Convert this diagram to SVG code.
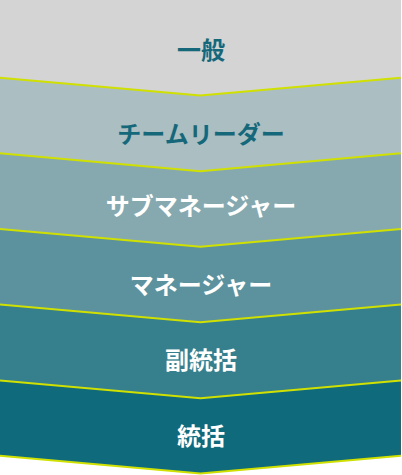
<svg xmlns="http://www.w3.org/2000/svg" width="402" height="475" viewBox="0 0 402 475">
  <style>
    .lbl { font-family: "Noto Sans CJK JP", "Noto Sans", sans-serif; font-size: 24px; font-weight: 700; text-anchor: middle; }
    .dark { fill: #14687a; }
    .light { fill: #ffffff; }
    .div { fill: none; stroke: #d0e000; stroke-width: 2; }
  </style>
  <rect x="0" y="0" width="402" height="475" fill="#ffffff"/>
  <g id="band-ippan">
    <polygon points="0,0 401,0 401,77.7 200.5,95.6 0,77.7" fill="#d3d4d3"/>
    <text class="lbl dark" x="201" y="58.5">一般</text>
  </g>
  <g id="band-team-leader">
    <polygon points="0,77.7 200.5,95.6 401,77.7 401,153.3 200.5,171.2 0,153.3" fill="#abbec2"/>
    <text class="lbl dark" x="201" y="143">チームリーダー</text>
  </g>
  <g id="band-sub-manager">
    <polygon points="0,153.3 200.5,171.2 401,153.3 401,229 200.5,246.8 0,229" fill="#85a9af"/>
    <text class="lbl light" x="201" y="215">サブマネージャー</text>
  </g>
  <g id="band-manager">
    <polygon points="0,229 200.5,246.8 401,229 401,304.4 200.5,322.2 0,304.4" fill="#5b929d"/>
    <text class="lbl light" x="201" y="293.5">マネージャー</text>
  </g>
  <g id="band-fuku-toukatsu">
    <polygon points="0,304.4 200.5,322.2 401,304.4 401,380.6 200.5,398.3 0,380.6" fill="#367f8c"/>
    <text class="lbl light" x="201" y="369">副統括</text>
  </g>
  <g id="band-toukatsu">
    <polygon points="0,380.6 200.5,398.3 401,380.6 401,455.8 200.5,473.4 0,455.8" fill="#0f6a7b"/>
    <text class="lbl light" x="201" y="445">統括</text>
  </g>
  <g id="dividers">
    <polyline class="div" points="0,77.7 200.5,95.6 401,77.7"/>
    <polyline class="div" points="0,153.3 200.5,171.2 401,153.3"/>
    <polyline class="div" points="0,229 200.5,246.8 401,229"/>
    <polyline class="div" points="0,304.4 200.5,322.2 401,304.4"/>
    <polyline class="div" points="0,380.6 200.5,398.3 401,380.6"/>
    <polyline class="div" points="0,455.8 200.5,473.4 401,455.8"/>
  </g>
</svg>
